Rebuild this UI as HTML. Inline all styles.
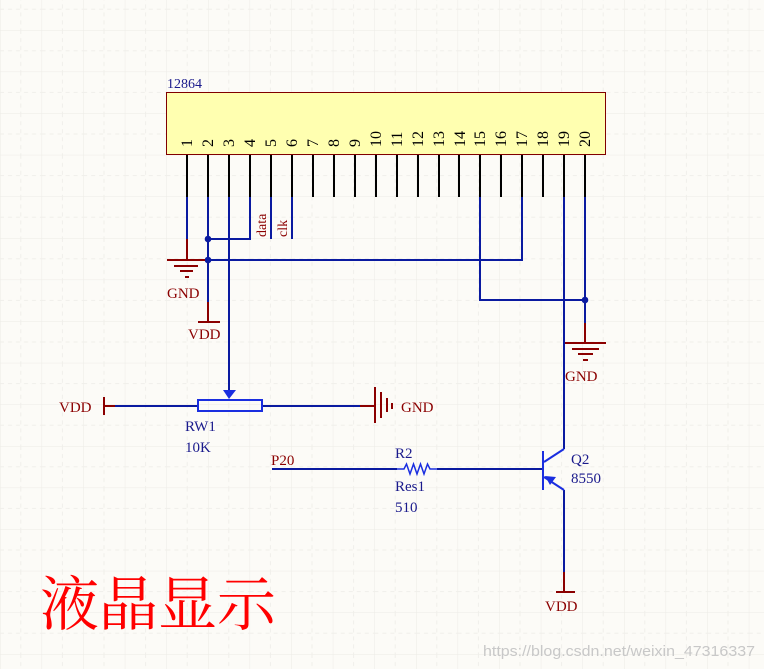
<!DOCTYPE html>
<html><head><meta charset="utf-8"><style>
html,body{margin:0;padding:0;background:#fcfbf7;}
svg{display:block}
text{font-family:"Liberation Serif","Noto Serif CJK SC",serif;}
</style></head><body>
<svg width="764" height="669" viewBox="0 0 764 669" xmlns="http://www.w3.org/2000/svg">
<defs>
<pattern id="g" x="0" y="30" width="41.6" height="41.6" patternUnits="userSpaceOnUse">
<path d="M0 0V41.6M0 0H41.6" stroke="#ecebe6" stroke-width="1" fill="none"/>
<path d="M20.8 0V41.6M0 20.8H41.6" stroke="#f0efea" stroke-width="1" stroke-dasharray="4 4" fill="none"/>
</pattern>
</defs>
<rect width="764" height="669" fill="#fcfbf7"/>
<rect width="764" height="669" fill="url(#g)"/>

<text x="167" y="88" font-size="14" fill="#1a1a8c">12864</text>
<rect x="166.5" y="92.5" width="439" height="62" fill="#ffffb0" stroke="#800000" stroke-width="1"/>
<g font-size="16" fill="#000">
<text transform="translate(192,147) rotate(-90)">1</text>
<text transform="translate(213,147) rotate(-90)">2</text>
<text transform="translate(234,147) rotate(-90)">3</text>
<text transform="translate(255,147) rotate(-90)">4</text>
<text transform="translate(276,147) rotate(-90)">5</text>
<text transform="translate(297,147) rotate(-90)">6</text>
<text transform="translate(318,147) rotate(-90)">7</text>
<text transform="translate(339,147) rotate(-90)">8</text>
<text transform="translate(360,147) rotate(-90)">9</text>
<text transform="translate(381,147) rotate(-90)">10</text>
<text transform="translate(402,147) rotate(-90)">11</text>
<text transform="translate(423,147) rotate(-90)">12</text>
<text transform="translate(444,147) rotate(-90)">13</text>
<text transform="translate(465,147) rotate(-90)">14</text>
<text transform="translate(485,147) rotate(-90)">15</text>
<text transform="translate(506,147) rotate(-90)">16</text>
<text transform="translate(527,147) rotate(-90)">17</text>
<text transform="translate(548,147) rotate(-90)">18</text>
<text transform="translate(569,147) rotate(-90)">19</text>
<text transform="translate(590,147) rotate(-90)">20</text>
</g>
<g stroke="#000" stroke-width="2">
<path d="M187 155V197M208 155V197M229 155V197M250 155V197M271 155V197M292 155V197M313 155V197M334 155V197M355 155V197M376 155V197M397 155V197M418 155V197M439 155V197M459 155V197M480 155V197M501 155V197M522 155V197M543 155V197M564 155V197M585 155V197"/>
</g>
<g stroke="#0a1aa0" stroke-width="2" fill="none">
<path d="M187 197V239"/>
<path d="M208 197V302"/>
<path d="M229 197V390"/>
<path d="M250 197V239H208"/>
<path d="M271 197V239M292 197V239"/>
<path d="M208 260H522V197"/>
<path d="M480 197V300H585"/>
<path d="M585 197V323"/>
<path d="M564 197V449"/>
<path d="M104 406H198M262 406H360"/>
<path d="M272 469H397M437 469H543"/>
<path d="M564 490V572"/>
</g>
<g fill="#0a1aa0"><circle cx="208" cy="239" r="3.3"/><circle cx="208" cy="260" r="3.3"/><circle cx="585" cy="300" r="3.3"/></g>
<text transform="translate(266,237) rotate(-90)" font-size="14" fill="#8b0000">data</text>
<text transform="translate(287,237) rotate(-90)" font-size="14" fill="#8b0000">clk</text>

<g stroke="#8b0000" stroke-width="2" fill="none">
<path d="M187 239V260M167 260H205M174 266H198M180 271H193M185 277H189"/>
<path d="M208 302V322M198 322H220"/>
<path d="M585 323V343M565 343H606M572 349H599M578 354H593M583 360H588"/>
<path d="M104 397V415M104 406H115"/>
<path d="M360 406H375M375 387V423M381 392V418M387 398V412M392 403V409"/>
<path d="M564 572V592M556 592H575"/>
</g>
<g font-size="15" fill="#8b0000">
<text x="167" y="298">GND</text>
<text x="188" y="339">VDD</text>
<text x="565" y="381">GND</text>
<text x="59" y="412">VDD</text>
<text x="401" y="412">GND</text>
<text x="271" y="465">P20</text>
<text x="545" y="611">VDD</text>
</g>

<rect x="198" y="400" width="64" height="11" fill="none" stroke="#1a2ee0" stroke-width="2"/>
<path d="M223 390H236L229 399Z" fill="#1a2ee0"/>
<g font-size="15" fill="#1a1a8c">
<text x="185" y="431">RW1</text>
<text x="185" y="452">10K</text>
<text x="395" y="458">R2</text>
<text x="395" y="491">Res1</text>
<text x="395" y="512">510</text>
<text x="571" y="464">Q2</text>
<text x="571" y="483">8550</text>
</g>
<path d="M397 469H404L406.5 464L410 474L413.5 464L417 474L420.5 464L424 474L427.5 464L430 469H437" fill="none" stroke="#1a2ee0" stroke-width="1.5"/>
<g stroke="#1a2ee0" stroke-width="2" fill="none">
<path d="M543 451V490"/>
<path d="M544 462L564 449"/>
<path d="M544 477L564 490"/>
</g>
<path d="M545 476L556 477L550 485Z" fill="#1a2ee0"/>

<text x="40" y="625" font-size="59" fill="#ff0000" style="font-family:'Noto Serif CJK SC',serif">液晶显示</text>
<text x="483" y="656" font-size="15" fill="#c8c8c8" textLength="272" lengthAdjust="spacingAndGlyphs" style="font-family:'Liberation Sans',sans-serif">https://blog.csdn.net/weixin_47316337</text>
</svg>
</body></html>
